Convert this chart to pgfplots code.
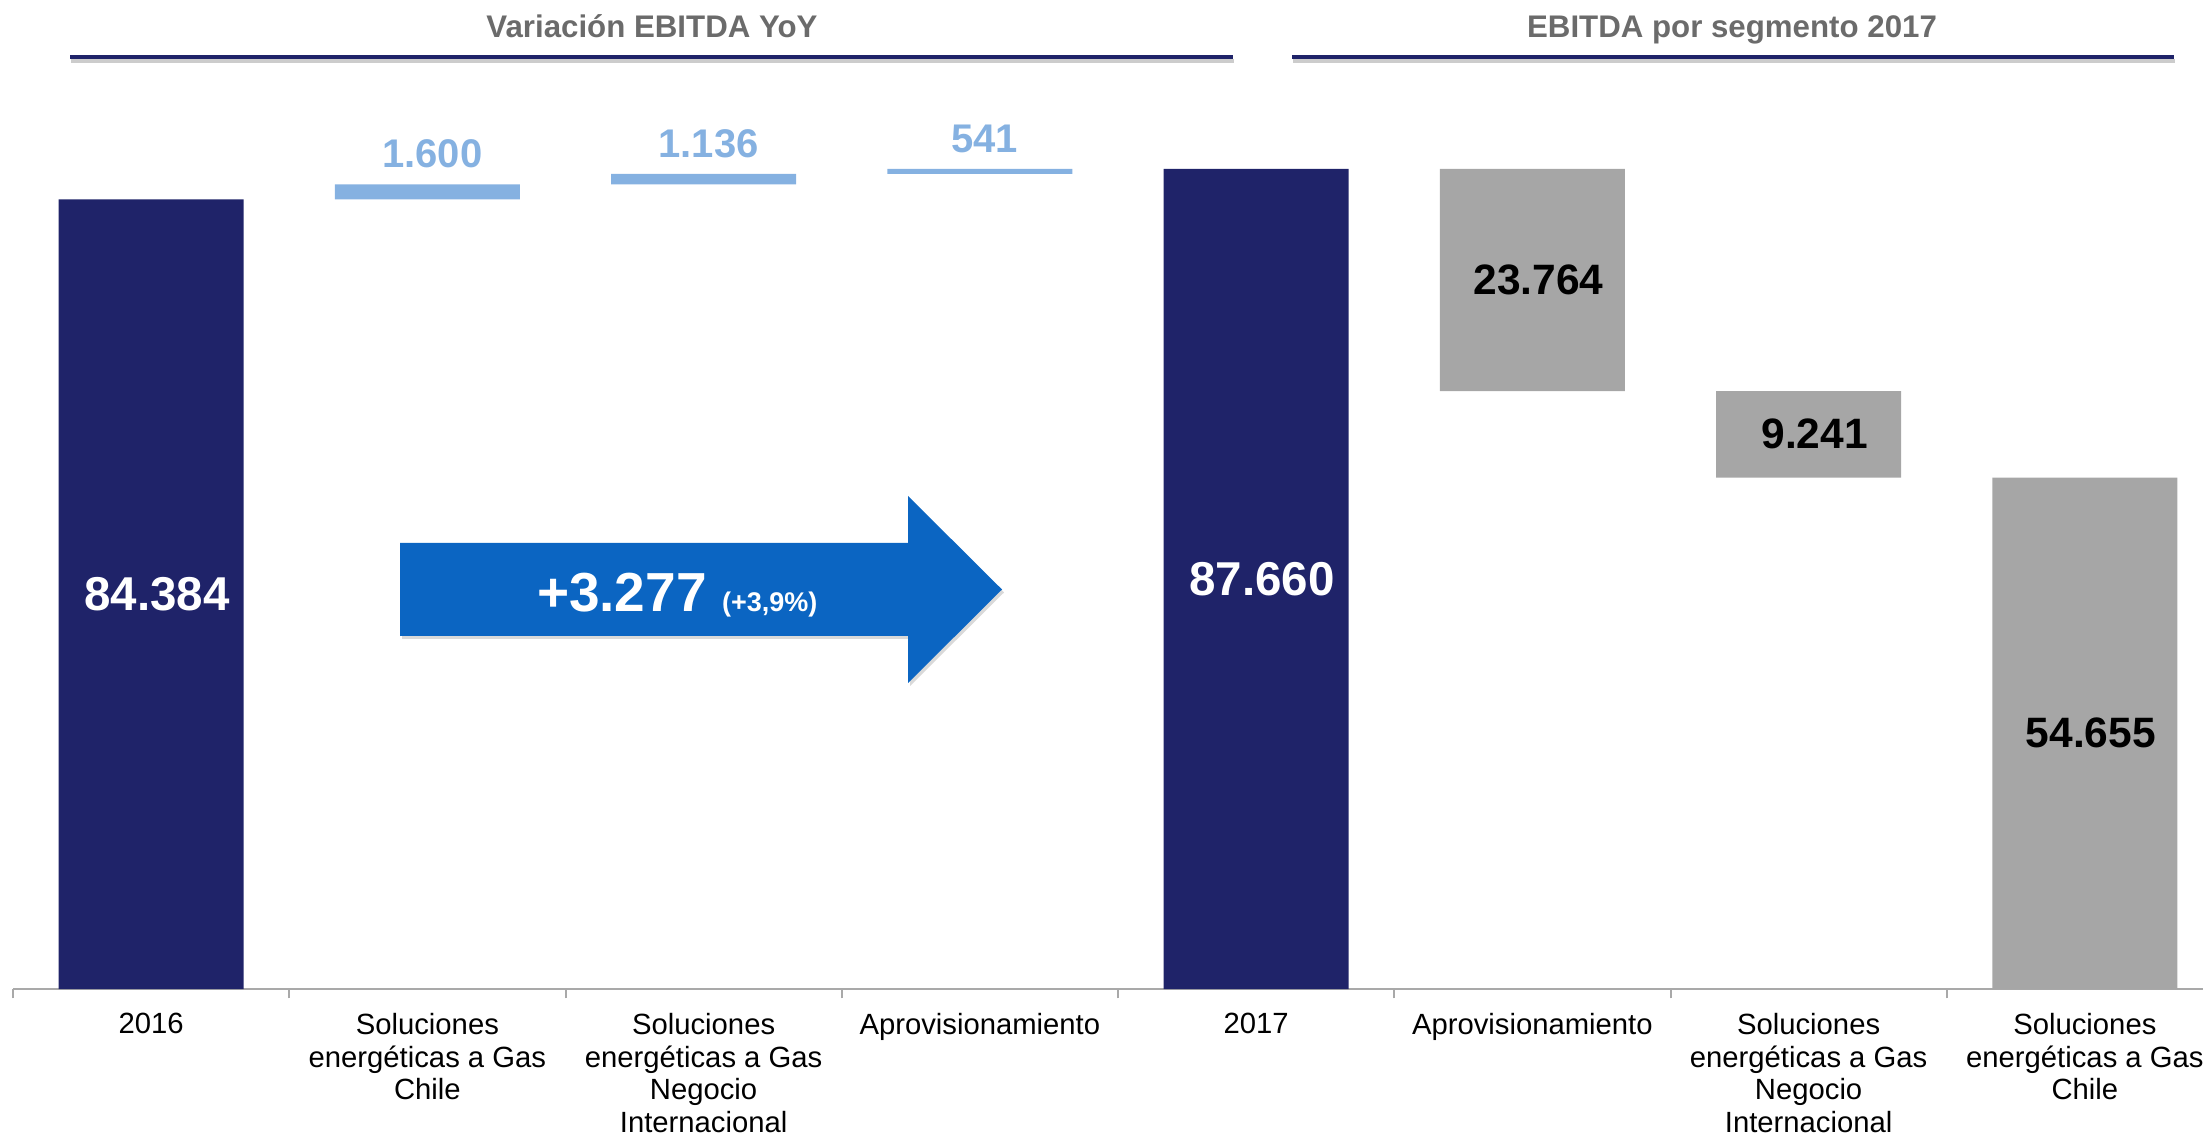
\documentclass[border=0pt]{standalone}
\usepackage{fontspec}
\setmainfont{Liberation Sans}
\usepackage{pgfplots}
\pgfplotsset{compat=1.18}
\usetikzlibrary{shadows}
\definecolor{cNavy}{HTML}{1F2369}
\definecolor{cLight}{HTML}{85B1E1}
\definecolor{cGray}{HTML}{A6A6A6}
\definecolor{cArrow}{HTML}{0B65C2}
\definecolor{cTitle}{HTML}{6B6B6B}
\definecolor{cAxis}{HTML}{A9A9A9}

\pgfplotsset{
  common/.style={at={(5.2bp,58.8bp)}, anchor=south west, scale only axis,
    width=884bp, height=395.6bp, xmin=-0.5, xmax=7.5, ymin=0, ymax=105700, clip=false},
}

\begin{document}
\begin{tikzpicture}
\useasboundingbox (0,0) rectangle (881.2bp,454.4bp);
% section titles
\node[anchor=base, inner sep=0, font=\fontsize{12.5bp}{15bp}\selectfont\bfseries, text=cTitle]
  at (260.8bp,439.4bp) {Variación EBITDA YoY};
\node[anchor=base, inner sep=0, font=\fontsize{12.5bp}{15bp}\selectfont\bfseries, text=cTitle]
  at (692.8bp,439.4bp) {EBITDA por segmento 2017};
\draw[black!20, line width=1.8bp] (28.4bp,430.0bp) -- (493.6bp,430.0bp);
\draw[black!20, line width=1.8bp] (517.2bp,430.0bp) -- (869.8bp,430.0bp);
\draw[cNavy, line width=1.6bp] (28bp,431.7bp) -- (493.2bp,431.7bp);
\draw[cNavy, line width=1.6bp] (516.8bp,431.7bp) -- (869.4bp,431.7bp);

% bars
\begin{axis}[common,
  ybar stacked, bar width=74bp,
  axis y line=none, axis x line*=bottom,
  x axis line style={-, draw=cAxis, line width=0.8bp},
  xtick={0,...,7}, major tick length=0pt,
  minor xtick={-0.5,0.5,...,7.5}, minor tick length=3.8bp, tick align=outside,
  minor tick style={draw=cAxis, line width=0.8bp},
  xticklabels={{2016},{Soluciones\\energéticas a Gas\\Chile},{Soluciones\\energéticas a Gas\\Negocio\\Internacional},{Aprovisionamiento},{2017},{Aprovisionamiento},{Soluciones\\energéticas a Gas\\Negocio\\Internacional},{Soluciones\\energéticas a Gas\\Chile}},
  xticklabel style={font=\fontsize{11.7bp}{13.0bp}\selectfont, align=center, yshift=-6.3bp, text=black},
]
% invisible base
\addplot[fill=none, draw=none] coordinates {(0,0) (1,84384) (2,85984) (3,87120) (4,0) (5,63896) (6,54655) (7,0)};
% totals
\addplot[fill=cNavy, draw=none] coordinates {(0,84384) (1,0) (2,0) (3,0) (4,87660) (5,0) (6,0) (7,0)};
% variations
\addplot[fill=cLight, draw=none] coordinates {(0,0) (1,1600) (2,1136) (3,541) (4,0) (5,0) (6,0) (7,0)};
% segments
\addplot[fill=cGray, draw=none] coordinates {(0,0) (1,0) (2,0) (3,0) (4,0) (5,23764) (6,9241) (7,54655)};
\end{axis}

% labels
\begin{axis}[common, hide axis]
\addplot[draw=none, nodes near coords, point meta=explicit symbolic,
  nodes near coords align=center,
  every node near coord/.append style={anchor=center, xshift=2.4bp, text=white, font=\fontsize{19bp}{22bp}\selectfont\bfseries}]
  table[meta=label] {
x y label
0 42192 84.384
4 43830 87.660
};
\addplot[draw=none, nodes near coords, point meta=explicit symbolic,
  nodes near coords align=center,
  every node near coord/.append style={anchor=center, xshift=2.4bp, text=black, font=\fontsize{17bp}{20bp}\selectfont\bfseries}]
  table[meta=label] {
x y label
5 75778 23.764
6 59276 9.241
7 27328 54.655
};
\addplot[draw=none, nodes near coords, point meta=explicit symbolic,
  nodes near coords align=center,
  every node near coord/.append style={anchor=base, yshift=6.6bp, xshift=2bp, text=cLight, font=\fontsize{16bp}{19bp}\selectfont\bfseries}]
  table[meta=label] {
x y label
1 85984 1.600
2 87120 1.136
3 87661 541
};
\end{axis}

% arrow
\fill[cArrow, drop shadow={shadow xshift=0.8bp, shadow yshift=-1.2bp, opacity=0.3}]
  (160bp,200bp) -- (363.2bp,200bp) -- (363.2bp,181.2bp) -- (400.8bp,218.6bp)
  -- (363.2bp,256bp) -- (363.2bp,237.2bp) -- (160bp,237.2bp) -- cycle;
\node[anchor=base west, inner sep=0, text=white, font=\fontsize{22bp}{26bp}\selectfont\bfseries]
  at (214.6bp,209.7bp) {+3.277 {\fontsize{10.8bp}{13bp}\selectfont(+3,9\%)}};
\end{tikzpicture}
\end{document}
